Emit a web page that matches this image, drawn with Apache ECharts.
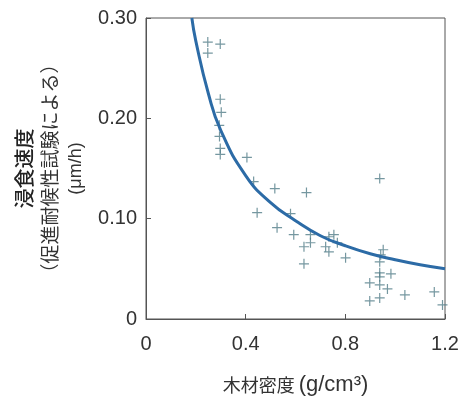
<!DOCTYPE html>
<html>
<head>
<meta charset="utf-8">
<script src="https://cdn.jsdelivr.net/npm/echarts@6/dist/echarts.min.js"></script>
<style>
html,body{margin:0;padding:0;background:#fff;}
#main{width:459px;height:396px;}
</style>
</head>
<body>
<div id="main"></div>
<script>
// 実測点 (木材密度 g/cm3, 浸食速度 μm/h)
var densX = [0.248,0.298,0.248,0.298,0.302,0.294,0.295,0.298,0.298,0.405,
             0.432,0.517,0.644,0.446,0.580,0.526,0.593,0.660,0.660,0.634,
             0.754,0.734,0.768,0.721,0.734,0.801,0.634,0.938,0.952,0.942,
             0.938,0.938,0.938,0.983,0.898,0.938,0.969,1.039,0.898,0.938,
             1.157,1.190];
var rateY = [0.276,0.274,0.265,0.219,0.206,0.193,0.182,0.170,0.164,0.161,
             0.137,0.130,0.126,0.106,0.105,0.091,0.084,0.084,0.076,0.072,
             0.084,0.082,0.076,0.072,0.067,0.061,0.055,0.140,0.069,0.064,
             0.057,0.046,0.042,0.045,0.036,0.034,0.030,0.024,0.018,0.021,
             0.027,0.014];
// 近似曲線
var fitX = [0.184,0.20,0.25,0.30,0.40,0.50,0.60,0.70,0.80,0.90,1.00,1.10,1.20];
var fitY = [0.300,0.277,0.225,0.188,0.143,0.116,0.098,0.083,0.073,0.065,0.059,0.054,0.050];

var font = 'Liberation Sans, Noto Sans CJK JP, sans-serif';
var cjk = 'Noto Sans CJK JP, sans-serif';

var pts = [];
for (var i = 0; i < densX.length; i++) {
	pts.push([densX[i], rateY[i]]);
}
var fit = [];
for (var j = 0; j < fitX.length; j++) {
	fit.push([fitX[j], fitY[j]]);
}

var myChart = echarts.init(document.getElementById('main'));
myChart.setOption({
	animation: false,
	grid: {
		left: 146, right: 14, top: 18, bottom: 77,
		outerBoundsMode: 'none', containLabel: false,
		show: true, borderColor: '#555', borderWidth: 1
	},
	xAxis: {
		type: 'value', min: 0, max: 1.2, interval: 0.4,
		axisLine: {show: true, lineStyle: {color: '#555'}},
		axisTick: {show: true, inside: true, length: 5, lineStyle: {color: '#555'}},
		splitLine: {show: false},
		axisLabel: {
			fontSize: 20, color: '#333', fontFamily: font, margin: 15,
			formatter: function(v){ return v === 0 ? '0' : v.toFixed(1); }
		},
		name: '{c|木材密度 }{l|(g/cm³)}',
		nameLocation: 'middle', nameGap: 55,
		nameTextStyle: {
			fontFamily: font, color: '#333',
			rich: {
				c: {fontSize: 18, fontFamily: cjk, color: '#333'},
				l: {fontSize: 22, fontFamily: font, color: '#333'}
			}
		}
	},
	yAxis: {
		type: 'value', min: 0, max: 0.3, interval: 0.1,
		axisLine: {show: true, lineStyle: {color: '#555'}},
		axisTick: {show: true, inside: true, length: 5, lineStyle: {color: '#555'}},
		splitLine: {show: false},
		axisLabel: {
			fontSize: 20, color: '#333', fontFamily: font, margin: 9,
			formatter: function(v){ return v === 0 ? '0' : v.toFixed(2); }
		},
		name: '{a|浸食速度}\n{b|（促進耐候性試験による）}\n{c|(μm/h)}',
		nameLocation: 'middle', nameRotate: 90, nameGap: 57,
		nameTextStyle: {
			fontFamily: cjk, color: '#333', align: 'center',
			rich: {
				a: {fontSize: 20, fontWeight: 500, lineHeight: 26, fontFamily: cjk, color: '#222'},
				b: {fontSize: 19, lineHeight: 26, fontFamily: cjk, color: '#333'},
				c: {fontSize: 18, lineHeight: 26, fontFamily: font, color: '#333'}
			}
		}
	},
	series: [{
		type: 'scatter',
		data: pts,
		symbol: 'path://M0,5L10,5M5,0L5,10',
		symbolSize: 10,
		itemStyle: {color: 'transparent', borderColor: '#527d88', borderWidth: 1.2}
	}, {
		type: 'line',
		data: fit,
		smooth: true,
		showSymbol: false,
		lineStyle: {color: '#2c6ba6', width: 3},
		z: 3
	}]
});
</script>
</body>
</html>
